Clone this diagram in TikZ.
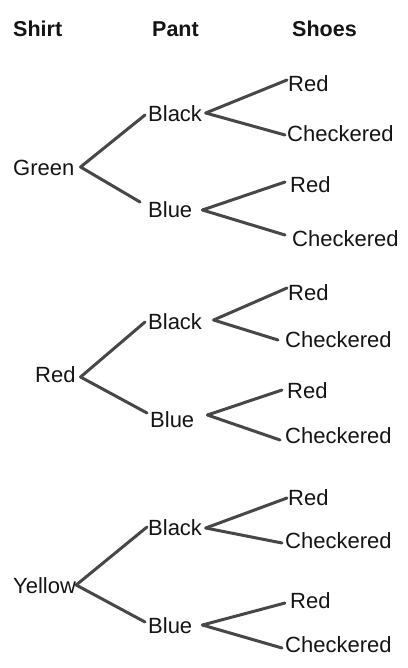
\documentclass[tikz,border=0pt]{standalone}
\usepackage{fontspec}
\setmainfont{Liberation Sans}
\begin{document}
\begin{tikzpicture}[x=1pt,y=1pt,
  lbl/.style={anchor=base west,inner sep=0pt,text height=15.4pt,text depth=0pt,
    font=\fontsize{22}{24}\selectfont,text=black!92},
  hdr/.style={lbl,font=\fontsize{21.5}{24}\selectfont\bfseries},
  br/.style={draw=black!72,line width=3pt,line cap=round}]
\useasboundingbox (0,0) rectangle (407,-668);
% headers
\node[hdr] (hs) at (13,-37) {Shirt};
\node[hdr] (hp) at (152,-37) {Pant};
\node[hdr] (hh) at (292,-37) {Shoes};
% group 1
\node[lbl] (g1) at (13,-176) {Green};
\node[lbl] (b1) at (148,-122) {Black};
\node[lbl] (u1) at (148,-217) {Blue};
\node[lbl] (r11) at (288,-92) {Red};
\node[lbl] (c11) at (287,-142) {Checkered};
\node[lbl] (r12) at (290,-193) {Red};
\node[lbl] (c12) at (292,-246) {Checkered};
% group 2
\node[lbl] (g2) at (35,-382) {Red};
\node[lbl] (b2) at (148,-329) {Black};
\node[lbl] (u2) at (150,-427) {Blue};
\node[lbl] (r21) at (288,-300) {Red};
\node[lbl] (c21) at (285,-347) {Checkered};
\node[lbl] (r22) at (287,-398) {Red};
\node[lbl] (c22) at (285,-443) {Checkered};
% group 3
\node[lbl] (g3) at (13,-593) {Yellow};
\node[lbl] (b3) at (148,-535) {Black};
\node[lbl] (u3) at (148,-633) {Blue};
\node[lbl] (r31) at (288,-505) {Red};
\node[lbl] (c31) at (285,-548) {Checkered};
\node[lbl] (r32) at (290,-608) {Red};
\node[lbl] (c32) at (285,-652) {Checkered};
% branches group 1
\draw[br] ([shift={(6,1.3)}]g1.east) -- ([shift={(-3,-0.7)}]b1.west);
\draw[br] ([shift={(6,1.3)}]g1.east) -- ([shift={(-8,7.3)}]u1.west);
\draw[br] ([shift={(3.5,1.3)}]b1.east) -- ([shift={(-1,4.3)}]r11.west);
\draw[br] ([shift={(3.5,1.3)}]b1.east) -- ([shift={(-2,-0.7)}]c11.west);
\draw[br] ([shift={(10,-0.7)}]u1.east) -- ([shift={(-5,3.3)}]r12.west);
\draw[br] ([shift={(10,-0.7)}]u1.east) -- ([shift={(-7,3.3)}]c12.west);
% branches group 2
\draw[br] ([shift={(4.8,-2.7)}]g2.east) -- ([shift={(-3,-0.7)}]b2.west);
\draw[br] ([shift={(4.8,-2.7)}]g2.east) -- ([shift={(-3,6.3)}]u2.west);
\draw[br] ([shift={(11.4,1.3)}]b2.east) -- ([shift={(-1,4.3)}]r21.west);
\draw[br] ([shift={(11.4,1.3)}]b2.east) -- ([shift={(-7,-0.7)}]c21.west);
\draw[br] ([shift={(13,4.3)}]u2.east) -- ([shift={(-5,0.3)}]r22.west);
\draw[br] ([shift={(13,4.3)}]u2.east) -- ([shift={(-5,-4.7)}]c22.west);
% branches group 3
\draw[br] ([shift={(0,0.3)}]g3.east) -- ([shift={(-1,0.3)}]b3.west);
\draw[br] ([shift={(0,0.3)}]g3.east) -- ([shift={(-3,3.3)}]u3.west);
\draw[br] ([shift={(3.5,-0.7)}]b3.east) -- ([shift={(-1,-0.7)}]r31.west);
\draw[br] ([shift={(3.5,-0.7)}]b3.east) -- ([shift={(-3,-2.7)}]c31.west);
\draw[br] ([shift={(10,0.3)}]u3.east) -- ([shift={(-5,-2.7)}]r32.west);
\draw[br] ([shift={(10,0.3)}]u3.east) -- ([shift={(-3,-3.7)}]c32.west);
\end{tikzpicture}
\end{document}
